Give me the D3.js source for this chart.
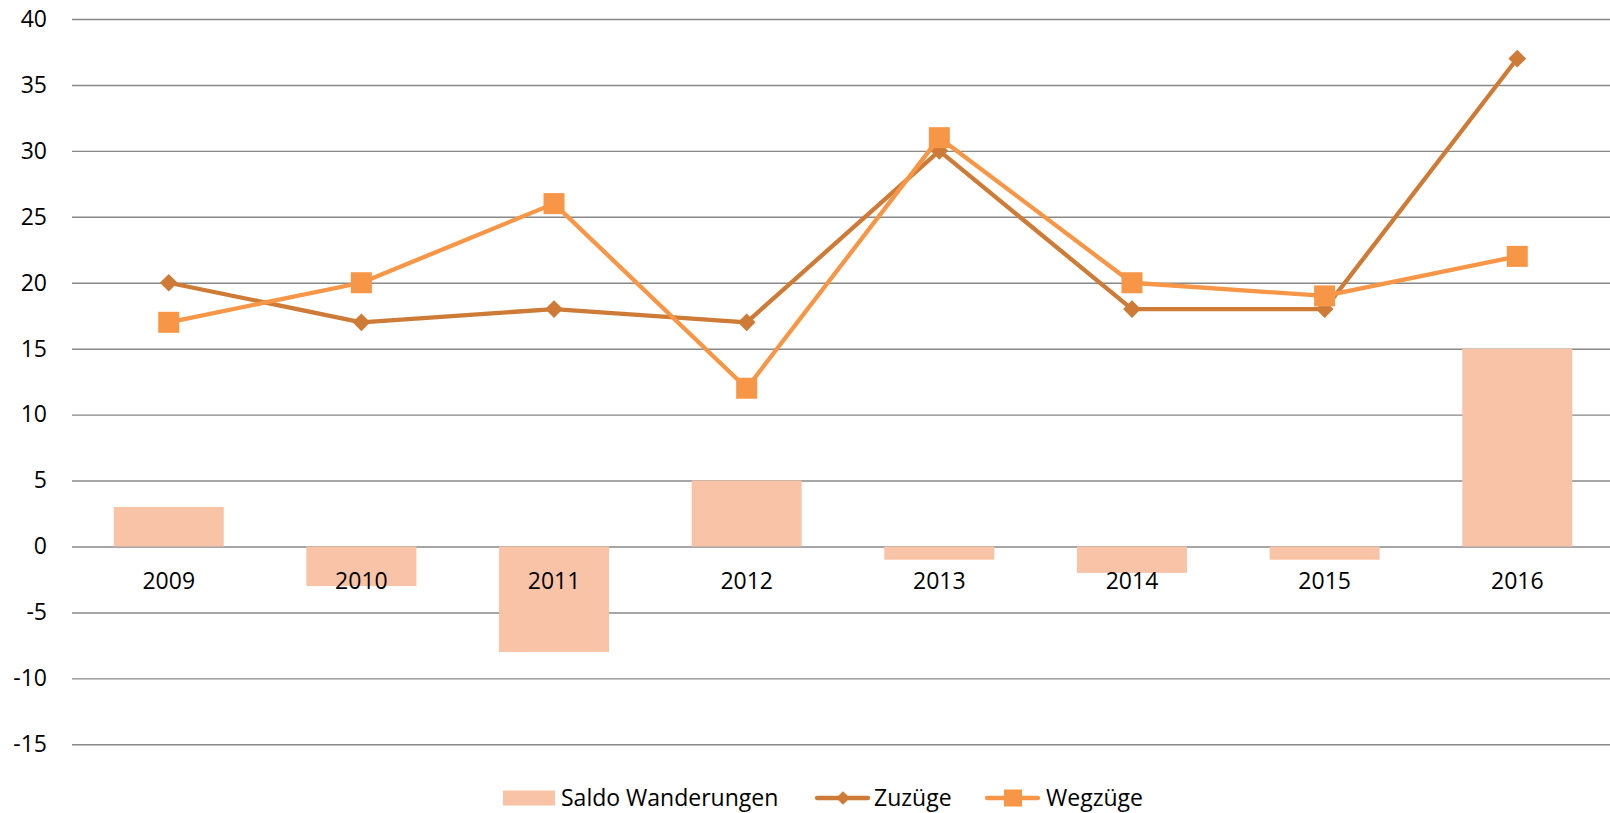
<!DOCTYPE html>
<html><head><meta charset="utf-8">
<script src="https://cdn.jsdelivr.net/npm/d3@7"></script>
<style>body{margin:0;background:#fff}svg{display:block}text{font-family:"Open Sans",sans-serif;fill:#000}</style>
</head><body>
<script>
const categories = ["2009","2010","2011","2012","2013","2014","2015","2016"];
const saldo = [3,-3,-8,5,-1,-2,-1,15];
const zuzuege = [20,17,18,17,30,18,18,37];
const wegzuege = [17,20,26,12,31,20,19,22];
const yTicks = [-15,-10,-5,0,5,10,15,20,25,30,35,40];

const W=1610,H=813,FS=23;
const svg=d3.select("body").append("svg").attr("width",W).attr("height",H);
const x=d3.scaleBand().domain(categories).range([72.4,1613.6]).paddingInner(0.429).paddingOuter(0.2145);
const xc=d=>x(d)+x.bandwidth()/2;
const y=d3.scaleLinear().domain([-15,40]).range([744.3,19]);

const yAxis=svg.append("g").attr("transform","translate(72,0)")
  .call(d3.axisLeft(y).tickValues(yTicks).tickSize(-1540).tickPadding(25).tickFormat(d=>String(d)));
yAxis.select(".domain").remove();
yAxis.selectAll("line").attr("stroke","#888").attr("stroke-width",1.4);
yAxis.selectAll("text").attr("font-size",FS).style("font-family","Open Sans").attr("fill","#000");

const C={s:"#F9C3A8",z:"#CD7B36",w:"#F79646"};
svg.append("g").selectAll("rect").data(saldo).join("rect")
  .attr("x",(d,i)=>x(categories[i])).attr("width",x.bandwidth())
  .attr("y",d=>y(Math.max(0,d))).attr("height",d=>Math.abs(y(d)-y(0)))
  .attr("fill",C.s);

const xAxis=svg.append("g").attr("transform",`translate(0,${y(0)})`)
  .call(d3.axisBottom(x).tickSize(0).tickPadding(26.5));
xAxis.select(".domain").remove();
xAxis.selectAll("text").attr("font-size",FS).style("font-family","Open Sans").attr("fill","#000");

const line=d3.line().x((d,i)=>xc(categories[i])).y(d=>y(d));
svg.append("path").datum(zuzuege).attr("d",line).attr("fill","none").attr("stroke",C.z).attr("stroke-width",4.3).attr("stroke-linejoin","round");
svg.append("g").selectAll("path").data(zuzuege).join("path")
  .attr("transform",(d,i)=>`translate(${xc(categories[i])},${y(d)})`)
  .attr("d",d3.symbol(d3.symbolDiamond2,200)()).attr("fill",C.z);
svg.append("path").datum(wegzuege).attr("d",line).attr("fill","none").attr("stroke",C.w).attr("stroke-width",4.3).attr("stroke-linejoin","round");
svg.append("g").selectAll("rect").data(wegzuege).join("rect")
  .attr("x",(d,i)=>xc(categories[i])-10.5).attr("y",d=>y(d)-10.5).attr("width",21).attr("height",21).attr("fill",C.w);

// legend
const lg=svg.append("g");
const ly=798;
lg.append("rect").attr("x",503).attr("y",ly-7.5).attr("width",52).attr("height",15).attr("fill",C.s);
lg.append("text").attr("x",561).attr("y",ly).attr("dy","0.35em").attr("font-size",FS).text("Saldo Wanderungen");
lg.append("line").attr("x1",817).attr("x2",868).attr("y1",ly).attr("y2",ly).attr("stroke",C.z).attr("stroke-width",4.3).attr("stroke-linecap","round");
lg.append("path").attr("transform",`translate(843,${ly})`).attr("d",d3.symbol(d3.symbolDiamond2,120)()).attr("fill",C.z);
lg.append("text").attr("x",874).attr("y",ly).attr("dy","0.35em").attr("font-size",FS).text("Zuzüge");
lg.append("line").attr("x1",987).attr("x2",1038).attr("y1",ly).attr("y2",ly).attr("stroke",C.w).attr("stroke-width",4.3).attr("stroke-linecap","round");
lg.append("rect").attr("x",1004).attr("y",ly-8.5).attr("width",18).attr("height",17).attr("fill",C.w);
lg.append("text").attr("x",1046).attr("y",ly).attr("dy","0.35em").attr("font-size",FS).text("Wegzüge");
</script>
</body></html>
